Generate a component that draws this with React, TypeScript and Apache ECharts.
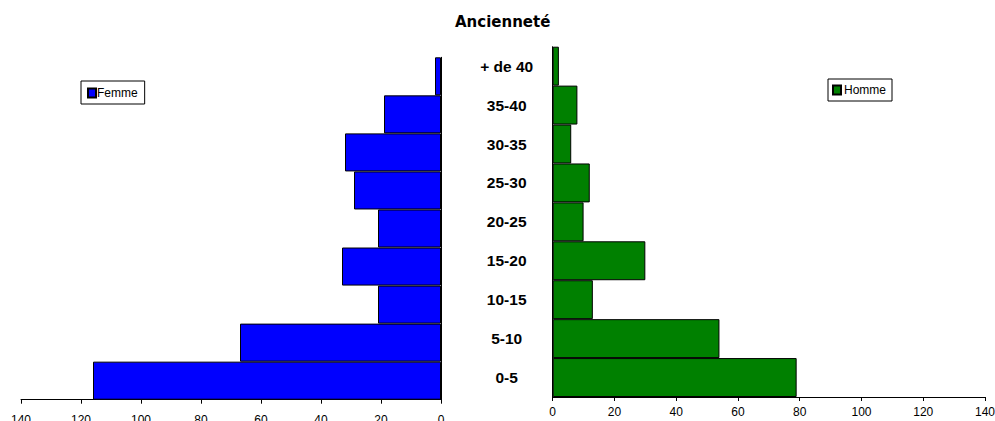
import React, { useEffect, useRef } from "react";
import * as echarts from "echarts";

const categories = ["0-5", "5-10", "10-15", "15-20", "20-25", "25-30", "30-35", "35-40", "+ de 40"];
const femme = [116, 67, 21, 33, 21, 29, 32, 19, 2];
const homme = [79, 54, 13, 30, 10, 12, 6, 8, 2];
const axisMin = 0;
const axisMax = 140;
const axisStep = 20;

const FONT = "'Liberation Sans', Arial, sans-serif";

export default function App() {
  const ref = useRef<HTMLDivElement>(null);
  useEffect(() => {
    if (!ref.current) return;
    const chart = echarts.init(ref.current, null, { renderer: "svg" });
    const valueAxisCommon = {
      type: "value" as const,
      min: axisMin,
      max: axisMax,
      interval: axisStep,
      splitLine: { show: false },
      axisLine: { show: true, lineStyle: { color: "#000", width: 1 } },
      axisTick: { show: true, length: 4, lineStyle: { color: "#000" } },
    };
    chart.setOption({
      animation: false,
      backgroundColor: "#fff",
      title: {
        text: "Ancienneté",
        left: 455,
        top: 14,
        padding: 0,
        textStyle: { fontFamily: "'DejaVu Sans', Verdana, sans-serif", fontSize: 15, fontWeight: "bold", color: "#000" },
      },
      legend: [
        {
          data: ["Femme"],
          left: 81,
          top: 81,
          orient: "horizontal",
          padding: [6, 7, 5, 6],
          borderColor: "#000",
          borderWidth: 1,
          itemWidth: 8,
          itemHeight: 9,
          icon: "rect",
          textStyle: { fontFamily: FONT, fontSize: 12, color: "#000", padding: [0, 0, 0, -4] },
        },
        {
          data: ["Homme"],
          left: 828,
          top: 79,
          orient: "horizontal",
          padding: [5, 6, 5, 4],
          borderColor: "#000",
          borderWidth: 1,
          itemWidth: 8,
          itemHeight: 9,
          icon: "rect",
          textStyle: { fontFamily: FONT, fontSize: 12, color: "#000", padding: [0, 0, 0, -2] },
        },
      ],
      grid: [
        { left: 21, top: 57.3, width: 420, height: 342.4, outerBoundsMode: "none", containLabel: false },
        { left: 552.7, top: 46.7, width: 432.3, height: 350.3, outerBoundsMode: "none", containLabel: false },
      ],
      xAxis: [
        {
          ...valueAxisCommon,
          gridIndex: 0,
          inverse: true,
          axisLabel: { fontFamily: FONT, fontSize: 12, color: "#000", margin: 14 },
        },
        {
          ...valueAxisCommon,
          gridIndex: 1,
          axisLabel: { fontFamily: FONT, fontSize: 12, color: "#000", margin: 9 },
        },
      ],
      yAxis: [
        {
          type: "category",
          gridIndex: 0,
          data: categories,
          position: "right",
          axisLine: { show: true, lineStyle: { color: "#000" } },
          axisTick: { show: false },
          axisLabel: { show: false },
        },
        {
          type: "category",
          gridIndex: 1,
          data: categories,
          position: "left",
          axisLine: { show: true, lineStyle: { color: "#000" } },
          axisTick: { show: false },
          axisLabel: {
            show: true,
            align: "center",
            margin: 46,
            fontFamily: FONT,
            fontSize: 15.5,
            fontWeight: "bold",
            color: "#000",
          },
        },
      ],
      series: [
        {
          name: "Femme",
          type: "bar",
          xAxisIndex: 0,
          yAxisIndex: 0,
          data: femme,
          barCategoryGap: "0%",
          itemStyle: { color: "#0000FF", borderColor: "#000", borderWidth: 1 },
        },
        {
          name: "Homme",
          type: "bar",
          xAxisIndex: 1,
          yAxisIndex: 1,
          data: homme,
          barCategoryGap: "0%",
          itemStyle: { color: "#008000", borderColor: "#000", borderWidth: 1 },
        },
      ],
    });
    return () => chart.dispose();
  }, []);
  return (
    <div
      ref={ref}
      style={{ position: "absolute", left: 0, top: 0, width: 995, height: 421 }}
    />
  );
}
